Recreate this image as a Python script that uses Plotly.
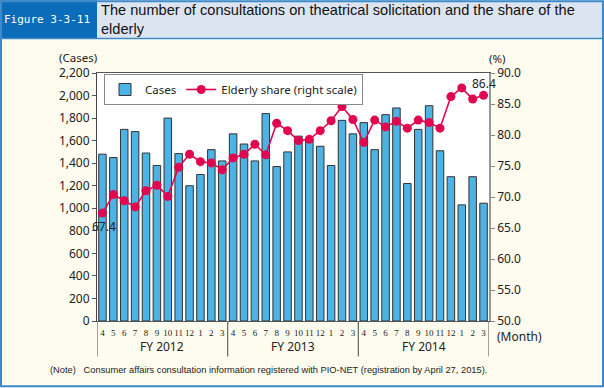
import plotly.graph_objects as go

# ---- data ----
fiscal_years = ["FY 2012", "FY 2013", "FY 2014"]
months = ["4", "5", "6", "7", "8", "9", "10", "11", "12", "1", "2", "3"]
cases = [1480, 1450, 1700, 1680, 1490, 1380, 1800, 1485, 1200, 1300, 1520, 1420,
         1660, 1570, 1420, 1840, 1370, 1500, 1640, 1605, 1550, 1380, 1780, 1660,
         1760, 1520, 1830, 1890, 1220, 1700, 1910, 1510, 1280, 1030, 1280, 1045]
elderly_share = [67.4, 70.4, 69.4, 68.4, 71.0, 71.9, 70.1, 74.8, 76.9, 75.7, 75.5, 74.4,
                 76.3, 76.9, 78.5, 76.8, 81.9, 80.7, 79.1, 79.3, 80.7, 82.3, 84.6, 82.5,
                 78.8, 82.4, 81.3, 82.2, 81.1, 82.4, 82.0, 81.1, 86.2, 87.6, 85.8, 86.4]
left_ticks = list(range(0, 2201, 200))
right_ticks = [50 + 5 * i for i in range(9)]

x_idx = list(range(len(cases)))
month_labels = months * len(fiscal_years)

W, H = 604, 388
L, R, T, B = 97, 489, 73, 321.5


def px(x):
    return (x - L) / (R - L)


def py(y):
    return (B - y) / (B - T)


CREAM = "#FEFCEE"
BLUE_DARK = "#0B6CBA"
BLUE_LIGHT = "#DCE4F1"
BORDER = "#3D8AC9"
BAR = "#4DB2E4"
LINE = "#E0064F"
FONT = "Noto Sans"

fig = go.Figure()
fig.add_trace(go.Bar(
    x=x_idx, y=cases, name="Cases",
    marker=dict(color=BAR, line=dict(color="#333333", width=1)),
    yaxis="y",
))
fig.add_trace(go.Scatter(
    x=x_idx, y=elderly_share, name="Elderly share (right scale)",
    mode="lines+markers",
    line=dict(color=LINE, width=1.6),
    marker=dict(color=LINE, size=9),
    yaxis="y2",
))

shapes = []
shapes.append(dict(type="rect", xref="paper", yref="paper",
                   x0=px(0), x1=px(W), y0=py(0), y1=py(38),
                   fillcolor=BLUE_LIGHT, line=dict(width=0), layer="below"))
shapes.append(dict(type="rect", xref="paper", yref="paper",
                   x0=px(0), x1=px(97), y0=py(0), y1=py(38),
                   fillcolor=BLUE_DARK, line=dict(width=0), layer="below"))
shapes.append(dict(type="line", xref="paper", yref="paper",
                   x0=px(0), x1=px(W), y0=py(38.5), y1=py(38.5),
                   line=dict(color=BORDER, width=1.5)))
shapes.append(dict(type="rect", xref="paper", yref="paper",
                   x0=px(1), x1=px(W - 1), y0=py(1), y1=py(H - 1),
                   line=dict(color=BORDER, width=2), fillcolor="rgba(0,0,0,0)"))
for k in range(len(fiscal_years) + 1):
    xv = k * len(months) - 0.5
    shapes.append(dict(type="line", xref="x", yref="paper",
                       x0=xv, x1=xv, y0=0, y1=py(357),
                       line=dict(color="#666666", width=1.2)))


def note(x, y, text, size=12, family=FONT, color="#222", xanchor="center", **kw):
    return dict(x=x, y=y, xref="paper", yref="paper", text=text, showarrow=False,
                xanchor=xanchor, yanchor="middle",
                font=dict(family=family, size=size, color=color), **kw)


annotations = []
for k, fy in enumerate(fiscal_years):
    annotations.append(dict(x=k * len(months) + 5.5, y=py(347), xref="x", yref="paper",
                            text=fy, showarrow=False, xanchor="center", yanchor="middle",
                            font=dict(family=FONT, size=12, color="#222")))
annotations += [
    note(px(47), py(19), "Figure 3-3-11", size=11, family="DejaVu Sans Mono", color="white"),
    note(px(99), py(19),
         "The number of consultations on theatrical solicitation and the share of the<br>elderly",
         size=14.6, family="Liberation Sans", color="#111", xanchor="left", align="left"),
    note(px(78), py(57), "(Cases)", size=11.5),
    note(px(497), py(58), "(%)", size=11.5),
    note(px(495), py(337), "(Month)", xanchor="left"),
    note(px(48), py(371),
         "(Note)   Consumer affairs consultation information registered with PIO-NET (registration by April 27, 2015).",
         size=9.3, family="Liberation Sans", xanchor="left"),
    dict(x=x_idx[0], y=elderly_share[0], xref="x", yref="y2",
         text=f"{elderly_share[0]:.1f}", showarrow=False, yshift=-13, xshift=2,
         xanchor="center", yanchor="middle",
         font=dict(family=FONT, size=12, color="#222")),
    dict(x=x_idx[-1], y=elderly_share[-1], xref="x", yref="y2",
         text=f"{elderly_share[-1]:.1f}", showarrow=False, yshift=12, xshift=0,
         xanchor="center", yanchor="middle",
         font=dict(family=FONT, size=12, color="#222")),
]

fig.update_layout(
    width=W, height=H,
    margin=dict(l=L, r=W - R, t=T, b=H - B, pad=0, autoexpand=False),
    paper_bgcolor=CREAM, plot_bgcolor="white",
    bargap=0.31,
    showlegend=True,
    legend=dict(orientation="h", x=px(104), y=py(74), xanchor="left", yanchor="top",
                bgcolor="white", bordercolor="#888888", borderwidth=1,
                font=dict(family=FONT, size=11.5, color="#222"),
                itemwidth=30, tracegroupgap=0),
    xaxis=dict(range=[-0.5, len(cases) - 0.5], tickmode="array", tickvals=x_idx,
               ticktext=month_labels, ticks="", showgrid=False, tickangle=0,
               tickfont=dict(family="Liberation Sans Narrow", size=9, color="#222"),
               ticklabelstandoff=3,
               showline=True, linecolor="#555555", linewidth=1, mirror=True,
               zeroline=False, automargin=False),
    yaxis=dict(range=[0, 2200], tickmode="array", tickvals=left_ticks,
               tickformat=",d", ticks="outside", ticklen=4, tickcolor="#555",
               showgrid=False, showline=True, linecolor="#444444", linewidth=1,
               tickfont=dict(family=FONT, size=12, color="#222"), zeroline=False,
               automargin=False),
    yaxis2=dict(range=[50, 90], overlaying="y", side="right", tickmode="array",
                tickvals=right_ticks, tickformat=".1f", ticks="outside", ticklen=4,
                tickcolor="#888", showgrid=False, showline=True, linecolor="#999999",
                linewidth=1.5, tickfont=dict(family=FONT, size=12, color="#222"),
                zeroline=False, automargin=False),
    shapes=shapes,
    annotations=annotations,
)

fig.write_html("out.html", config={"responsive": False, "displayModeBar": False},
               post_script="document.body.style.margin='0';document.body.style.overflow='hidden';")
